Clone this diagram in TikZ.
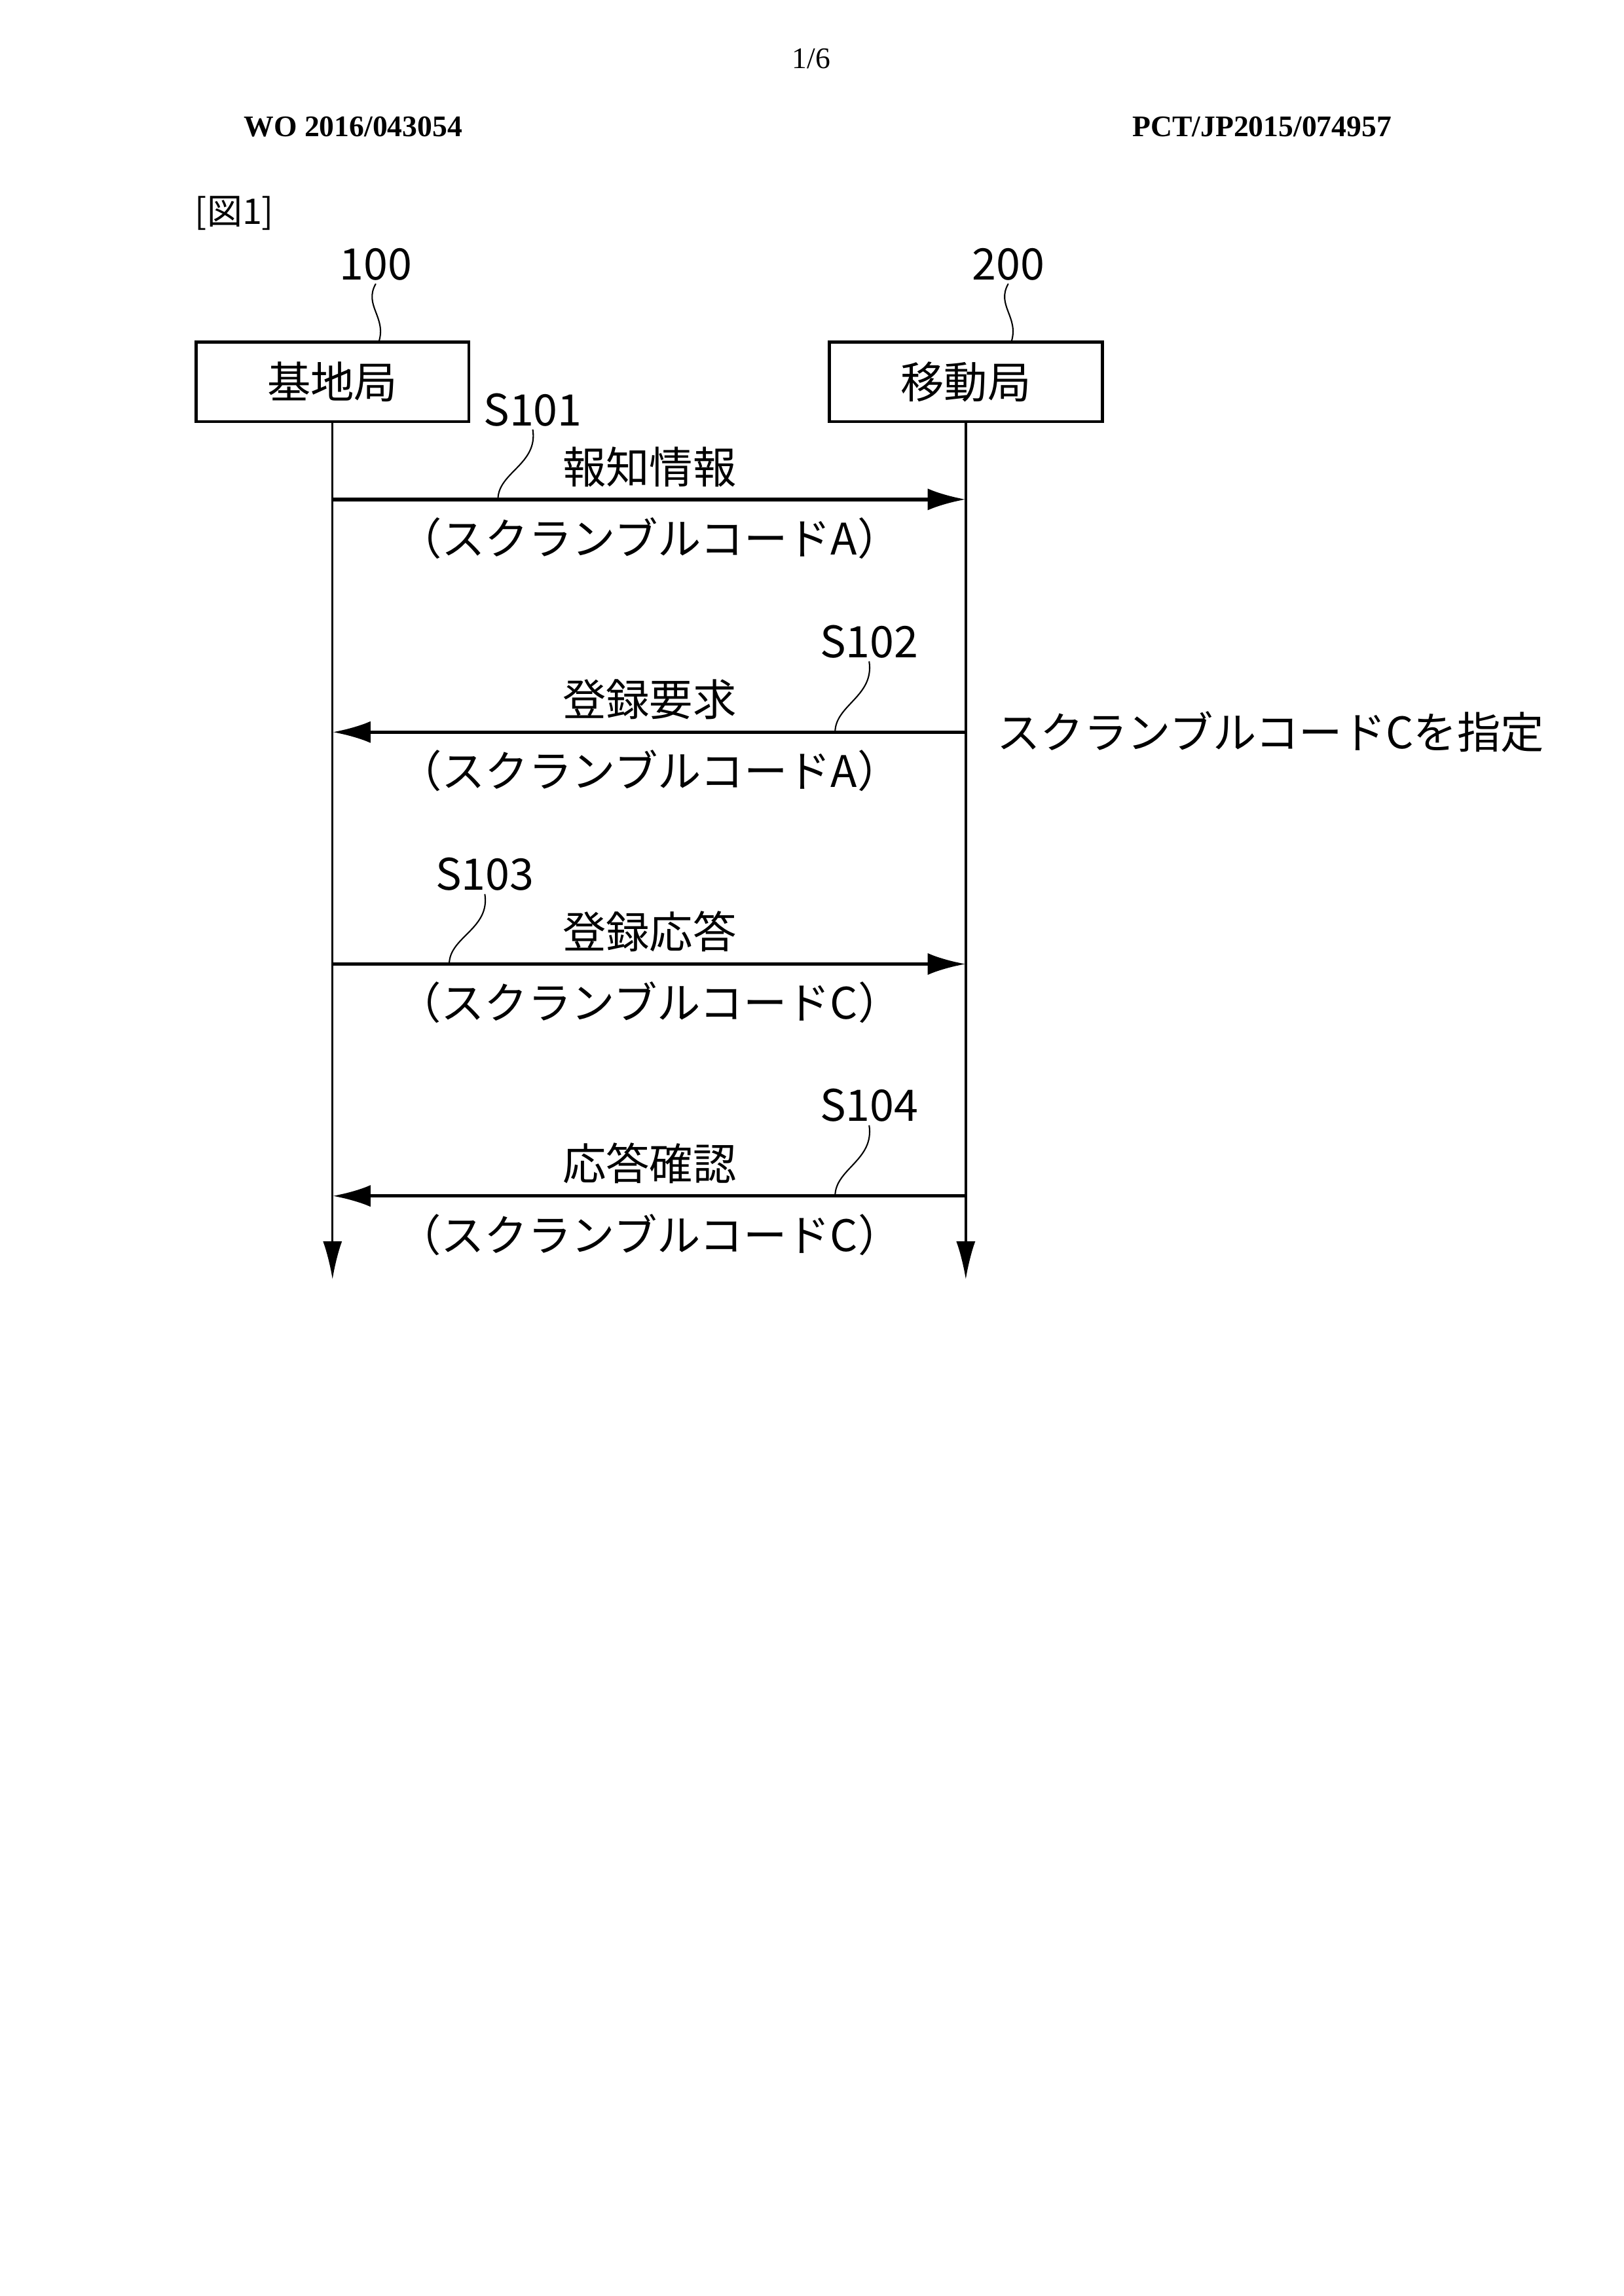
\documentclass[tikz,border=0pt]{standalone}
\usepackage{fontspec}
\newfontfamily\jp{Noto Sans CJK JP}
\setmainfont{Liberation Serif}
\usetikzlibrary{arrows.meta}
\tikzset{
    box/.style={draw, line width=1.1pt, minimum width=3.53cm, minimum height=1.03cm, font=\jp\fontsize{16}{16}\selectfont},
    lbl/.style={font=\jp\fontsize{16}{16}\selectfont, inner sep=1pt},
    msg/.style={-{Latex[length=14pt,width=8pt]}, line width=1.3pt},
    life/.style={-{Latex[length=14pt,width=7pt]}, line width=0.8pt},
    lead/.style={line width=0.5pt}
}
\begin{document}
\begin{tikzpicture}[x=1cm,y=-1cm]
    \useasboundingbox (0,0) rectangle (21,29.7);
    % header
    \node (page) at (10.49,0.76) {\fontsize{11}{11}\selectfont 1/6};
    \node[anchor=west] (wo) at (3.03,1.64) {\fontsize{11}{11}\selectfont\bfseries WO 2016/043054};
    \node[anchor=east] (pct) at (18.12,1.64) {\fontsize{11}{11}\selectfont\bfseries PCT/JP2015/074957};
    \node[lbl, anchor=west] (fig) at (2.48,2.76) {\fontsize{13}{13}\selectfont [図1]};

    % stations
    \node[box] (bs) at (4.30,4.94) {基地局};
    \node[box] (ms) at (12.49,4.94) {移動局};
    \node[lbl] (n100) at (4.86,3.42) {100};
    \node[lbl] (n200) at (13.04,3.42) {200};
    \draw[lead] (n100.south) .. controls (4.70,3.95) and (5.00,4.10) .. (4.90,4.42);
    \draw[lead] (n200.south) .. controls (12.88,3.95) and (13.18,4.10) .. (13.08,4.42);

    % lifelines
    \coordinate (bsend) at (4.30,16.55);
    \coordinate (msend) at (12.49,16.55);
    \draw[life] (bs.south) -- (bsend);
    \draw[life] (ms.south) -- (msend);

    % messages
    \foreach \i/\y/\dir/\name/\code in {1/6.46/1/報知情報/A, 2/9.47/0/登録要求/A, 3/12.47/1/登録応答/C, 4/15.47/0/応答確認/C}
    {
        \coordinate (b\i) at (4.30,\y);
        \coordinate (m\i) at (12.49,\y);
        \ifnum\dir=1
            \draw[msg] (b\i) -- (m\i);
        \else
            \draw[msg] (m\i) -- (b\i);
        \fi
        \node[lbl] (t\i) at (8.40,\y-0.42) {\name};
        \node[lbl] (c\i) at (8.40,\y+0.50) {（スクランブルコード\code）};
    }

    % step labels
    \node[lbl] (s1) at (6.89,5.30) {S101};
    \node[lbl] (s2) at (11.24,8.30) {S102};
    \node[lbl] (s3) at (6.27,11.31) {S103};
    \node[lbl] (s4) at (11.24,14.30) {S104};
    \coordinate (k1) at (6.44,6.46);
    \coordinate (k2) at (10.80,9.47);
    \coordinate (k3) at (5.81,12.47);
    \coordinate (k4) at (10.80,15.47);
    \foreach \i in {1,2,3,4}
    {
        \draw[lead] (s\i.south) .. controls ([xshift=2pt,yshift=-0.45cm]s\i.south) and ([yshift=0.35cm]k\i) .. (k\i);
    }

    \node[lbl, anchor=west] (spec) at (12.85,9.47) {スクランブルコードCを指定};
\end{tikzpicture}
\end{document}
